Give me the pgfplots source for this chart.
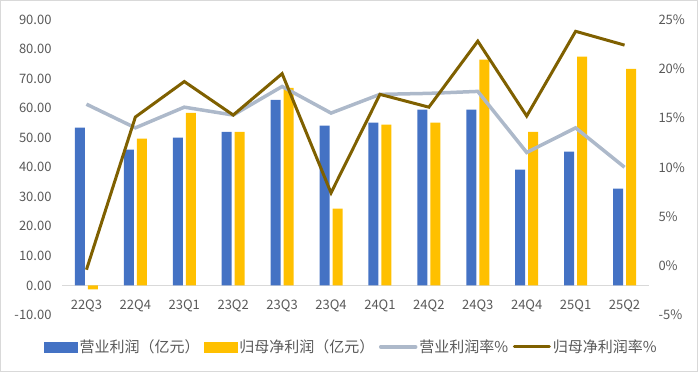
\documentclass[border=0pt]{standalone}
\usepackage{pgfplots}
\pgfplotsset{compat=1.18}
\usepackage{fontspec}
\setmainfont{Noto Sans CJK SC}
\definecolor{bluec}{HTML}{4472C4}
\definecolor{yellowc}{HTML}{FFC000}
\definecolor{grayc}{HTML}{ADB9CA}
\definecolor{darkc}{HTML}{7F6000}
\definecolor{textc}{HTML}{595959}
\definecolor{gridc}{HTML}{D9D9D9}
\begin{document}
\begin{tikzpicture}
\path[use as bounding box] (0,0) rectangle (698bp,372bp);
\draw[gridc, line width=1bp] (0.5bp,0.5bp) rectangle (697.5bp,371.5bp);
\begin{axis}[
  scale only axis, width=587bp, height=295.5bp, at={(62bp,57bp)}, anchor=south west,
  xmin=-0.5, xmax=11.5, ymin=-10, ymax=90,
  axis line style={draw=none}, tick style={draw=none},
  xtick={0,...,11},
  xticklabels={22Q3,22Q4,23Q1,23Q2,23Q3,23Q4,24Q1,24Q2,24Q3,24Q4,25Q1,25Q2},
  ytick={-10,0,...,90},
  /pgf/number format/assume math mode=true,
  /pgf/number format/fixed, /pgf/number format/fixed zerofill, /pgf/number format/precision=2,
  tick label style={font=\fontsize{13bp}{15bp}\selectfont, text=textc},
  xticklabel style={yshift=19bp},
  yticklabel style={xshift=-7bp},
]
\draw[gridc, line width=1bp] (axis cs:-0.5,0) -- (axis cs:11.5,0);
\addplot[ybar, bar width=10bp, bar shift=-6.5bp, fill=bluec, draw=none] coordinates {
(0,53.4) (1,46.0) (2,50.0) (3,52.0) (4,62.8) (5,54.1) (6,55.1) (7,59.5) (8,59.5) (9,39.2) (10,45.3) (11,32.8)};
\addplot[ybar, bar width=10bp, bar shift=6.5bp, fill=yellowc, draw=none] coordinates {
(0,-1.3) (1,49.7) (2,58.4) (3,52.0) (4,66.9) (5,26.0) (6,54.4) (7,55.1) (8,76.4) (9,52.0) (10,77.4) (11,73.3)};
\end{axis}
\begin{axis}[
  scale only axis, width=587bp, height=295.5bp, at={(62bp,57bp)}, anchor=south west,
  xmin=-0.5, xmax=11.5, ymin=-5, ymax=25,
  axis line style={draw=none}, tick style={draw=none},
  xtick=\empty,
  ytick={-5,0,...,25},
  yticklabel pos=right,
  /pgf/number format/assume math mode=true,
  /pgf/number format/fixed, /pgf/number format/precision=0,
  yticklabel={\pgfmathprintnumber{\tick}\%},
  tick label style={font=\fontsize{13bp}{15bp}\selectfont, text=textc},
  yticklabel style={xshift=6bp},
  legend columns=4,
  legend style={at={(0.493,-0.108)}, anchor=center, draw=none, fill=none,
    font=\fontsize{15bp}{17bp}\selectfont, text=textc,
    nodes={inner xsep=2bp},
    /tikz/every even column/.append style={column sep=2.5bp}},
]
\addlegendimage{legend image code/.code={\fill[bluec] (0bp,-5bp) rectangle (33bp,5bp);}}
\addlegendentry{营业利润（亿元）}
\addlegendimage{legend image code/.code={\fill[yellowc] (0bp,-5bp) rectangle (33bp,5bp);}}
\addlegendentry{归母净利润（亿元）}
\addplot[grayc, line width=3.5bp, legend image code/.code={\draw[grayc, line width=3.5bp, line cap=round] (0bp,0bp) -- (35bp,0bp);}] coordinates {
(0,16.4) (1,14.0) (2,16.1) (3,15.3) (4,18.2) (5,15.5) (6,17.4) (7,17.5) (8,17.7) (9,11.5) (10,14.0) (11,10.0)};
\addlegendentry{营业利润率\%}
\addplot[darkc, line width=3bp, legend image code/.code={\draw[darkc, line width=3bp, line cap=round] (0bp,0bp) -- (35bp,0bp);}] coordinates {
(0,-0.4) (1,15.1) (2,18.7) (3,15.3) (4,19.5) (5,7.4) (6,17.4) (7,16.1) (8,22.8) (9,15.2) (10,23.8) (11,22.4)};
\addlegendentry{归母净利润率\%}
\end{axis}
\end{tikzpicture}
\end{document}
